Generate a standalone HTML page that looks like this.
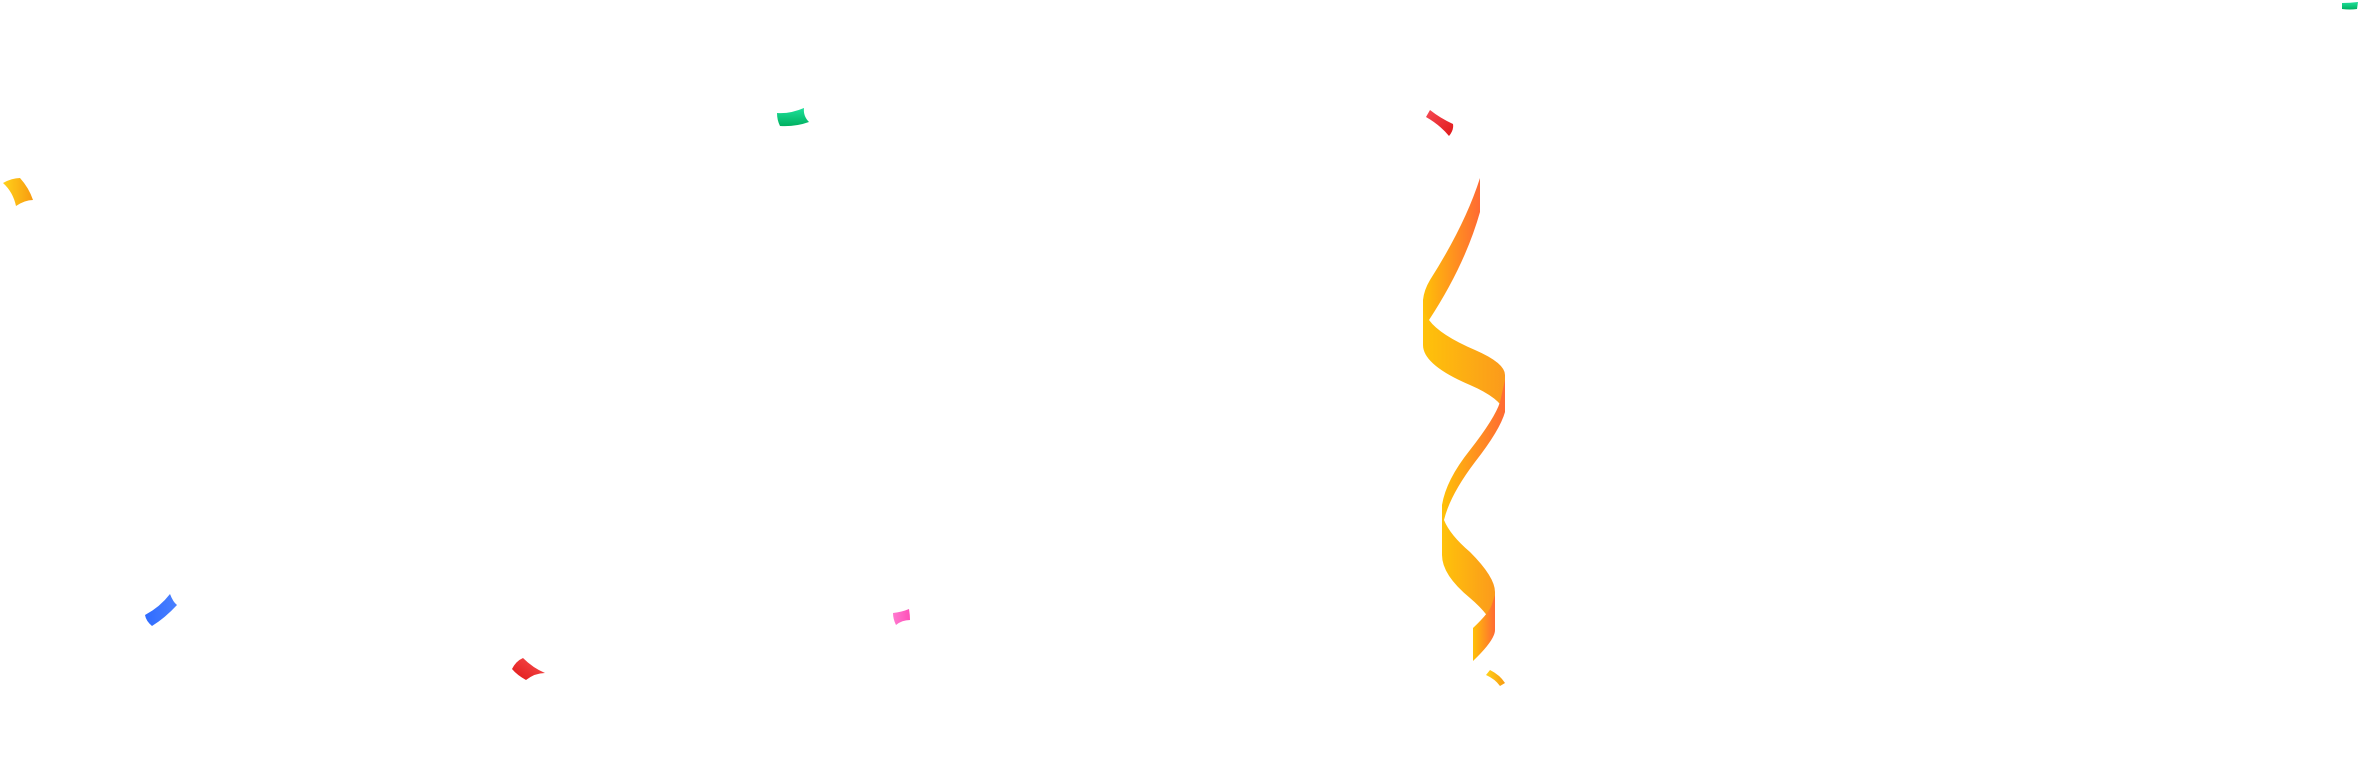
<!DOCTYPE html>
<html><head><meta charset="utf-8"><style>html,body{margin:0;padding:0;background:#fff;width:2360px;height:770px;overflow:hidden}</style></head>
<body>
<svg width="2360" height="770" viewBox="0 0 2360 770" xmlns="http://www.w3.org/2000/svg">
<defs>
<linearGradient id="st" x1="0" x2="1" y1="0" y2="0"><stop offset="0" stop-color="#ffc107"/><stop offset="1" stop-color="#ff6a33"/></linearGradient>
<linearGradient id="st2" x1="0" x2="1"><stop offset="0" stop-color="#ffc20a"/><stop offset="1" stop-color="#fb9a1c"/></linearGradient>
<linearGradient id="yl" x1="0" x2="1"><stop offset="0" stop-color="#ffd21a"/><stop offset="1" stop-color="#f89a10"/></linearGradient>
<linearGradient id="gr" x1="0" x2="0" y1="0" y2="1"><stop offset="0" stop-color="#1ee09a"/><stop offset="1" stop-color="#00b060"/></linearGradient>
<linearGradient id="rd" x1="0" x2="1" y1="0" y2="1"><stop offset="0" stop-color="#f54a55"/><stop offset="1" stop-color="#e01818"/></linearGradient>
<linearGradient id="rd2" x1="0" x2="1" y1="1" y2="0"><stop offset="0" stop-color="#e01818"/><stop offset="1" stop-color="#f85050"/></linearGradient>
<linearGradient id="bl" x1="0" x2="1"><stop offset="0" stop-color="#2f6bff"/><stop offset="1" stop-color="#4a80ff"/></linearGradient>
<linearGradient id="pk" x1="0" x2="1"><stop offset="0" stop-color="#ff7ad0"/><stop offset="1" stop-color="#ff4fb8"/></linearGradient>
</defs>
<!-- streamer -->
<path d="M1480,178 L1480,212 Q1465,265 1429,320 L1423,340 L1423,300 Q1424,290 1430,280 Q1465,225 1480,178 Z" fill="url(#st)"/>
<path d="M1429,320 Q1440,335 1475,350 Q1505,363 1505,375 L1505,412 Q1500,398 1470,385 Q1423,365 1423,345 L1423,310 Z" fill="url(#st2)"/>
<path d="M1505,380 L1505,412 Q1500,430 1475,462 Q1450,495 1444,520 L1442,540 L1442,505 Q1446,480 1470,450 Q1495,418 1500,402 Z" fill="url(#st)"/>
<path d="M1444,520 Q1450,535 1470,552 Q1495,577 1495,592 L1495,630 Q1490,615 1470,598 Q1442,575 1442,555 L1442,520 Z" fill="url(#st2)"/>
<path d="M1495,595 L1495,630 Q1495,640 1473,661 L1473,628 Q1490,612 1492,604 Z" fill="url(#st)"/>
<path d="M1486,675 L1490,670 Q1500,675 1505,683 L1500,686 Q1495,679 1486,675 Z" fill="url(#yl)"/>
<!-- confetti -->
<path d="M3,183 Q12,178 20,178 Q29,188 33,200 Q25,200 16,206 Q13,192 3,183 Z" fill="url(#yl)"/>
<path d="M145,615 Q160,607 170,594 Q173,602 177,605 Q165,618 152,626 Q146,621 145,615 Z" fill="url(#bl)"/>
<path d="M777,113 Q790,114 804,108 Q803,116 809,122 Q795,127 780,126 Q777,120 777,113 Z" fill="url(#gr)"/>
<path d="M1426,117 L1430,110 Q1440,118 1453,124 Q1454,130 1449,136 Q1440,125 1426,117 Z" fill="url(#rd)"/>
<path d="M893,613 Q902,612 909,609 Q910,615 910,620 Q902,620 896,625 Q893,619 893,613 Z" fill="url(#pk)"/>
<path d="M512,669 Q516,661 523,658 Q533,668 545,673 Q535,673 526,680 Q517,675 512,669 Z" fill="url(#rd2)"/>
<path d="M2342,3 Q2350,3 2358,2 L2357,9 Q2350,10 2342,9 Z" fill="url(#gr)"/>
</svg>
</body></html>
